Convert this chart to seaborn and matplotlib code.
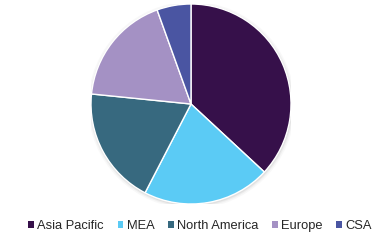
import matplotlib
matplotlib.use("Agg")
import matplotlib.pyplot as plt
import seaborn as sns
from matplotlib.patches import Patch, Circle

regions = ["Asia Pacific", "MEA", "North America", "Europe", "CSA"]
shares = [36.9, 20.7, 19.0, 17.9, 5.5]
colors = ["#36104A", "#5BCBF5", "#37697F", "#A491C4", "#4A55A2"]

sns.set_style("white")
plt.rcParams['font.family'] = ['Liberation Sans', 'DejaVu Sans']
palette = sns.color_palette(colors)

fig = plt.figure(figsize=(3.82, 2.44), dpi=100)
ax = fig.add_axes([91/382, 40/244, 200/382, 200/244])
for i, (r, a) in enumerate([(1.035, 0.05), (1.02, 0.08), (1.008, 0.12)]):
    ax.add_patch(Circle((0.005, -0.012), r, color="#808080", alpha=a, lw=0, zorder=0))
wedges, _ = ax.pie(shares, colors=palette, startangle=90, counterclock=False,
                   wedgeprops=dict(edgecolor="white", linewidth=1.0), radius=1.0)
ax.set_xlim(-1.0, 1.0)
ax.set_ylim(-1.0, 1.0)
ax.set_aspect("equal")
ax.axis("off")

handles = [Patch(facecolor=c, edgecolor="none", label=l) for c, l in zip(palette, regions)]
fig.legend(handles=handles, loc="center", bbox_to_anchor=(200/382, 18/244), ncol=5,
           frameon=False, fontsize=9.3, handlelength=0.45, handleheight=0.45,
           handletextpad=0.25, columnspacing=1.05, borderaxespad=0)
fig.savefig("out.png", dpi=100)
